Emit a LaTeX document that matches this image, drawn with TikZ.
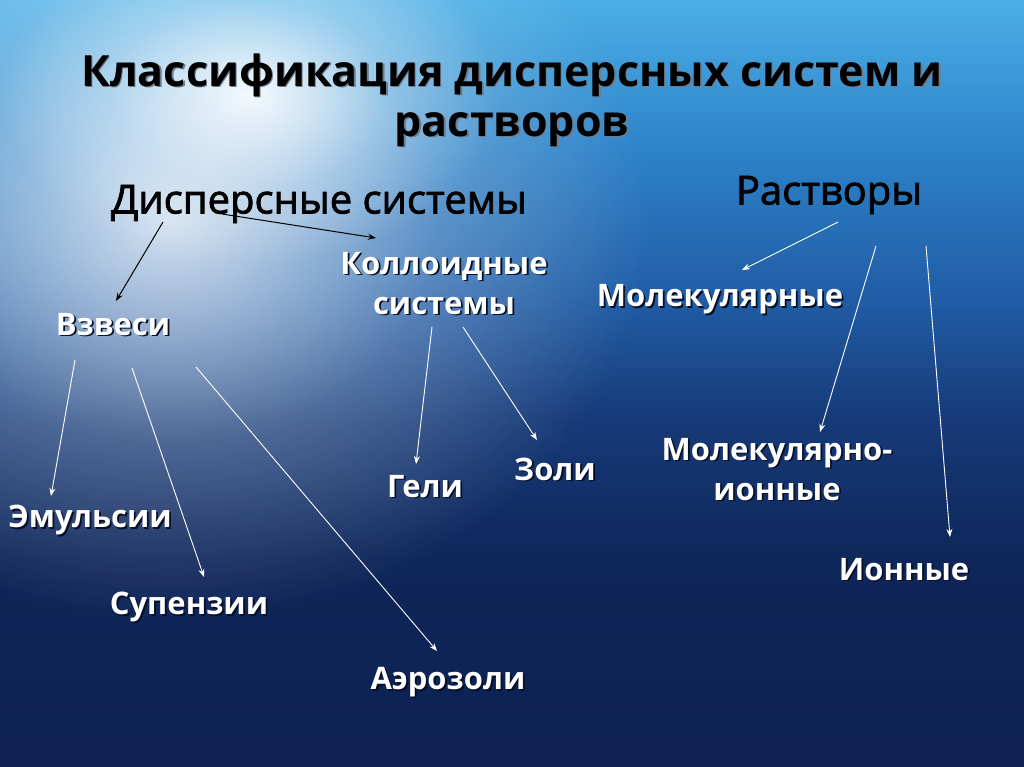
\documentclass[tikz,border=0pt]{standalone}
\usepackage{fontspec}
\setmainfont{Open Sans}
\newfontfamily\headfont[FakeBold=2]{Open Sans}
\usetikzlibrary{fadings,calc,arrows.meta}

\definecolor{bgA}{RGB}{75,175,230}
\definecolor{bgB}{RGB}{45,130,200}
\definecolor{bgC}{RGB}{32,92,165}
\definecolor{bgD}{RGB}{22,58,120}
\definecolor{bgE}{RGB}{15,38,90}
\definecolor{bgF}{RGB}{13,33,82}
\definecolor{shadowc}{RGB}{8,16,40}
\definecolor{titleshd}{RGB}{110,125,140}

\pgfdeclareradialshading{glowshade}{\pgfpointorigin}{color(0bp)=(pgftransparent!0); color(6bp)=(pgftransparent!30); color(14bp)=(pgftransparent!70); color(25bp)=(pgftransparent!100); color(50bp)=(pgftransparent!100)}
\pgfdeclarefading{glowfade}{\pgfuseshading{glowshade}}

\newcommand\shd[1]{\makebox[0pt][l]{\kern1.8pt\raisebox{-1.8pt}{\textcolor{shadowc}{#1}}}#1}
\newcommand\tshd[1]{\makebox[0pt][l]{\kern1.5pt\raisebox{-1.5pt}{\textcolor{titleshd}{#1}}}#1}

\tikzset{
  lbl/.style={text=white, inner sep=0.75pt, align=center, font=\fontsize{31}{40}\selectfont\bfseries},
  head/.style={text=black, inner sep=0.75pt, font=\fontsize{40}{46}\selectfont\headfont},
  ttl/.style={text=black, inner sep=0.75pt, align=center, font=\fontsize{43}{50}\selectfont\bfseries},
  wline/.style={white, line width=0.9pt, -{Stealth[length=8pt,width=6pt]}},
  bline/.style={black, line width=1pt, -{Stealth[length=8pt,width=6pt]}}
}

\begin{document}
\begin{tikzpicture}[x=1pt,y=1pt,yscale=-1,xscale=1]
\useasboundingbox (0,0) rectangle (1024,767);

%Shape: Background bands
\shade[top color=bgA, bottom color=bgB] (0,0) rectangle (1024,150);
\shade[top color=bgB, bottom color=bgC] (0,150) rectangle (1024,300);
\shade[top color=bgC, bottom color=bgD] (0,300) rectangle (1024,420);
\shade[top color=bgD, bottom color=bgE] (0,420) rectangle (1024,560);
\shade[top color=bgE, bottom color=bgF] (0,560) rectangle (1024,767);
%Shape: Glow
\fill[white, opacity=0.8, path fading=glowfade] (170,220) ellipse [x radius=480, y radius=400];
\fill[white, opacity=0.9, path fading=glowfade] (250,95) ellipse [x radius=250, y radius=170];

% Text Node
\draw (512,101) node (title) [ttl] {\tshd{Классификация дисперсных систем и}\\\tshd{растворов}};
% Text Node
\draw (319,204) node (disp) [head] {Дисперсные системы};
% Text Node
\draw (829,195) node (rast) [head] {Растворы};
% Text Node
\draw (113,325) node (vzv) [lbl] {\shd{Взвеси}};
% Text Node
\draw (444,284) node (koll) [lbl] {\shd{Коллоидные}\\\shd{системы}};
% Text Node
\draw (720,300) node (molek) [lbl] {\shd{Молекулярные}};
% Text Node
\draw (90,521) node (emul) [lbl] {\shd{Эмульсии}};
% Text Node
\draw (189,608) node (susp) [lbl] {\shd{Супензии}};
% Text Node
\draw (448,683) node (aero) [lbl] {\shd{Аэрозоли}};
% Text Node
\draw (425,487) node (geli) [lbl] {\shd{Гели}};
% Text Node
\draw (555,470) node (zoli) [lbl] {\shd{Золи}};
% Text Node
\draw (777,470) node (molion) [lbl] {\shd{Молекулярно-}\\\shd{ионные}};
% Text Node
\draw (904,570) node (ion) [lbl] {\shd{Ионные}};

%Straight Lines: black
\draw[bline] ($(disp.center)+(-156,18)$) -- ($(vzv.center)+(3,-24)$);
\draw[bline] ($(disp.center)+(-97,10)$) -- ($(koll.center)+(-68,-46)$);
%Straight Lines: Растворы
\draw[wline] ($(rast.center)+(9,27)$) -- ($(molek.center)+(22,-30)$);
\draw[wline] ($(rast.center)+(47,51)$) -- ($(molion.center)+(43,-38)$);
\draw[wline] ($(rast.center)+(97,51)$) -- ($(ion.center)+(46,-33)$);
%Straight Lines: Коллоидные
\draw[wline] ($(koll.center)+(-12,43)$) -- ($(geli.center)+(-9,-23)$);
\draw[wline] ($(koll.center)+(19,43)$) -- ($(zoli.center)+(-18,-30)$);
%Straight Lines: Взвеси
\draw[wline] ($(vzv.center)+(-38,35)$) -- ($(emul.center)+(-39,-25)$);
\draw[wline] ($(vzv.center)+(19,43)$) -- ($(susp.center)+(15,-31)$);
\draw[wline] ($(vzv.center)+(83,42)$) -- ($(aero.center)+(-11,-32)$);

\end{tikzpicture}
\end{document}
